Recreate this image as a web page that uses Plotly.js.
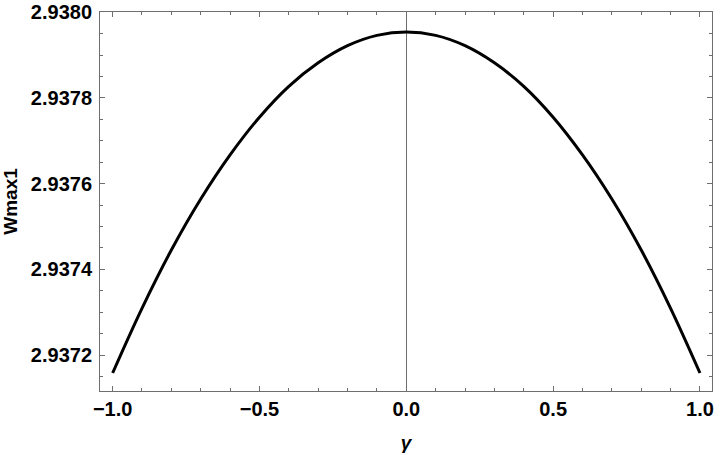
<!DOCTYPE html>
<html>
<head>
<meta charset="utf-8">
<script src="https://cdn.plot.ly/plotly-3.0.1.min.js"></script>
<style>
  html, body { margin: 0; padding: 0; background: #fff; }
  #chart { width: 720px; height: 455px; }
</style>
</head>
<body>
<div id="chart"></div>
<script>
// values
let gamma = [-1.0, -0.9, -0.8, -0.7, -0.6, -0.5, -0.4, -0.3, -0.2, -0.1, 0.0,
             0.1, 0.2, 0.3, 0.4, 0.5, 0.6, 0.7, 0.8, 0.9, 1.0];
let wmax1 = [2.937158, 2.937309, 2.937445, 2.937564, 2.937667, 2.937755, 2.937827,
             2.937882, 2.937922, 2.937946, 2.937954, 2.937946, 2.937922, 2.937882,
             2.937827, 2.937755, 2.937667, 2.937564, 2.937445, 2.937309, 2.937158];

let xTicks = [-1.0, -0.5, 0.0, 0.5, 1.0];
let yTicks = [2.9372, 2.9374, 2.9376, 2.9378, 2.9380];

document.addEventListener("DOMContentLoaded", function () {
    drawChart();
});

function drawChart() {
    let axisGray = "#6e6e6e";
    let font = { family: "Liberation Sans, Arial, sans-serif", size: 20, color: "#000" };

    let data = [{
        x: gamma,
        y: wmax1,
        type: "scatter",
        mode: "lines",
        line: { color: "#000", width: 3, shape: "spline" },
        hoverinfo: "skip"
    }];

    let layout = {
        width: 720,
        height: 455,
        margin: { l: 100, r: 8, t: 12, b: 64 },
        paper_bgcolor: "#fff",
        plot_bgcolor: "#fff",
        showlegend: false,
        font: font,
        xaxis: {
            range: [-1.043, 1.041],
            tickvals: xTicks,
            tickformat: ".1f",
            ticks: "inside",
            ticklen: 5,
            tickcolor: axisGray,
            tickfont: { family: font.family, size: 20, weight: "bold", color: "#000" },
            showline: true,
            linecolor: axisGray,
            linewidth: 1,
            mirror: "ticks",
            showgrid: false,
            zeroline: true,
            zerolinecolor: axisGray,
            zerolinewidth: 1,
            minor: { dtick: 0.1, tick0: 0, ticks: "inside", ticklen: 3, tickcolor: axisGray, showgrid: false },
            title: {
                text: "<b><i>γ</i></b>",
                font: { family: font.family, size: 19, color: "#000" },
                standoff: 16
            }
        },
        yaxis: {
            range: [2.937116, 2.9380005],
            tickvals: yTicks,
            tickformat: ".4f",
            ticks: "inside",
            ticklen: 5,
            tickcolor: axisGray,
            ticklabelstandoff: 3,
            tickfont: { family: font.family, size: 20, weight: "bold", color: "#000" },
            showline: true,
            linecolor: axisGray,
            linewidth: 1,
            mirror: "ticks",
            showgrid: false,
            zeroline: false,
            minor: { dtick: 0.00005, tick0: 2.9372, ticks: "inside", ticklen: 3, tickcolor: axisGray, showgrid: false },
            title: {
                text: "<b>Wmax1</b>",
                font: { family: font.family, size: 19, color: "#000" },
                standoff: 10
            }
        }
    };

    Plotly.newPlot("chart", data, layout, { displayModeBar: false, staticPlot: true });
}
</script>
</body>
</html>
